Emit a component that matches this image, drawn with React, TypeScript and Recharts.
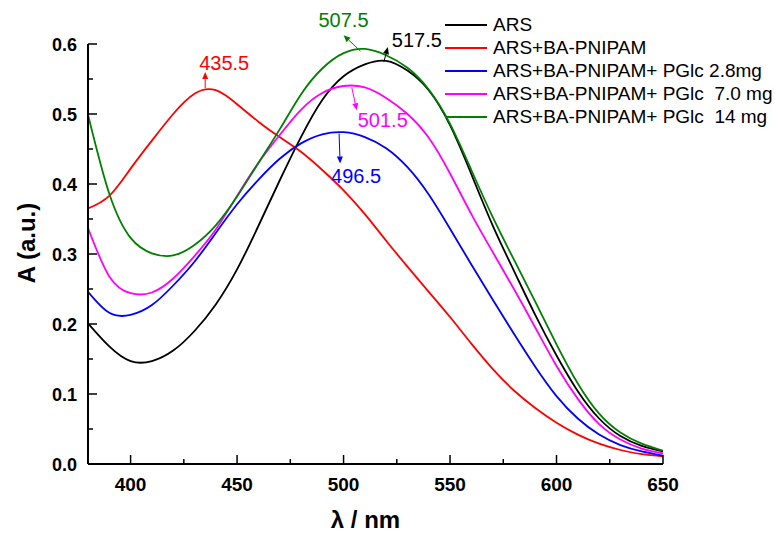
import { LineChart, Line, XAxis, YAxis, ReferenceDot } from "recharts";

// wavelength grid (nm)
const wavelengths = [
  380, 390, 400, 410, 420, 430, 440, 450, 460, 470, 480, 490, 500, 510, 520, 530, 540, 550,
  560, 570, 580, 590, 600, 610, 620, 630, 640, 650,
];

// absorbance
const ars = [
  0.201, 0.168, 0.147, 0.147, 0.162, 0.19, 0.228, 0.278, 0.34, 0.405, 0.467, 0.52, 0.554,
  0.571, 0.576, 0.562, 0.534, 0.484, 0.414, 0.341, 0.276, 0.213, 0.155, 0.104, 0.065, 0.04,
  0.026, 0.018,
];
const arsBa = [
  0.365, 0.383, 0.422, 0.462, 0.5, 0.529, 0.534, 0.514, 0.489, 0.467, 0.446, 0.42, 0.391,
  0.357, 0.319, 0.282, 0.246, 0.21, 0.172, 0.136, 0.105, 0.08, 0.059, 0.042, 0.029, 0.02,
  0.014, 0.011,
];
const pglc28 = [
  0.246, 0.216, 0.213, 0.227, 0.255, 0.289, 0.33, 0.371, 0.406, 0.436, 0.458, 0.471, 0.474,
  0.467, 0.451, 0.424, 0.385, 0.336, 0.285, 0.235, 0.186, 0.139, 0.097, 0.065, 0.042, 0.027,
  0.018, 0.012,
];
const pglc70 = [
  0.337, 0.268, 0.244, 0.245, 0.265, 0.297, 0.335, 0.383, 0.43, 0.47, 0.506, 0.53, 0.54,
  0.538, 0.523, 0.5, 0.466, 0.415, 0.357, 0.303, 0.25, 0.195, 0.14, 0.093, 0.057, 0.035,
  0.022, 0.015,
];
const pglc14 = [
  0.499, 0.386, 0.323, 0.301, 0.298, 0.313, 0.341, 0.382, 0.43, 0.478, 0.528, 0.565, 0.587,
  0.593, 0.584, 0.566, 0.535, 0.486, 0.42, 0.353, 0.292, 0.232, 0.171, 0.115, 0.072, 0.045,
  0.029, 0.019,
];

const seriesNames = [
  "ARS",
  "ARS+BA-PNIPAM",
  "ARS+BA-PNIPAM+ PGlc 2.8mg",
  "ARS+BA-PNIPAM+ PGlc  7.0 mg",
  "ARS+BA-PNIPAM+ PGlc  14 mg",
];
const seriesKeys = ["ars", "arsBa", "pglc28", "pglc70", "pglc14"];
const seriesColors = ["#000000", "#ff0000", "#0000ff", "#ff00ff", "#008000"];

// peak annotations
const peakWl = [435.5, 507.5, 517.5, 501.5, 496.5];
const peakA = [0.537, 0.594, 0.577, 0.541, 0.475];
const peakLabels = ["435.5", "507.5", "517.5", "501.5", "496.5"];
const peakColors = ["#ff0000", "#008000", "#000000", "#ff00ff", "#0000ff"];

const xTicks = [400, 425, 450, 475, 500, 525, 550, 575, 600, 625, 650];
const yTicks = [0, 0.05, 0.1, 0.15, 0.2, 0.25, 0.3, 0.35, 0.4, 0.45, 0.5, 0.55, 0.6];

const data = wavelengths.map((wl, i) => ({
  wl,
  ars: ars[i],
  arsBa: arsBa[i],
  pglc28: pglc28[i],
  pglc70: pglc70[i],
  pglc14: pglc14[i],
}));

const FONT = "'Liberation Sans', Arial, sans-serif";

// arrow start/end and text placement, relative to the peak point
const peakLayout = [
  { a: [-1, 0, -1, -16], t: [18, -18], anchor: "middle" },
  { a: [1, 3, -16, -13], t: [-16, -21], anchor: "middle" },
  { a: [3, 2, 7, -13], t: [11, -13], anchor: "start" },
  { a: [5, 2, 10, 25], t: [11, 42], anchor: "start" },
  { a: [3, 2, 4, 32], t: [-5, 51], anchor: "start" },
];

function Arrow({ x1, y1, x2, y2, color }: any) {
  const ang = Math.atan2(y2 - y1, x2 - x1);
  const L = 7;
  const W = 3;
  const bx = x2 - L * Math.cos(ang);
  const by = y2 - L * Math.sin(ang);
  const px = -Math.sin(ang) * W;
  const py = Math.cos(ang) * W;
  return (
    <g>
      <line x1={x1} y1={y1} x2={bx} y2={by} stroke={color} strokeWidth={1} />
      <polygon
        points={`${x2},${y2} ${bx + px},${by + py} ${bx - px},${by - py}`}
        fill={color}
      />
    </g>
  );
}

function PeakMark({ cx, cy, idx }: any) {
  const lay = peakLayout[idx];
  const color = peakColors[idx];
  return (
    <g>
      <Arrow
        x1={cx + lay.a[0]}
        y1={cy + lay.a[1]}
        x2={cx + lay.a[2]}
        y2={cy + lay.a[3]}
        color={color}
      />
      <text
        x={cx + lay.t[0]}
        y={cy + lay.t[1]}
        textAnchor={lay.anchor}
        fill={color}
        fontSize={20}
        fontFamily={FONT}
      >
        {peakLabels[idx]}
      </text>
    </g>
  );
}

function XTick({ x, y, payload }: any) {
  const v = payload.value;
  const major = v % 50 === 0;
  return (
    <g>
      <line x1={x} x2={x} y1={y} y2={y - (major ? 9 : 5)} stroke="#000" strokeWidth={1.5} />
      {major && (
        <text
          x={x}
          y={y + 27}
          textAnchor="middle"
          fontSize={19}
          fontWeight="bold"
          fontFamily={FONT}
          fill="#000"
        >
          {v}
        </text>
      )}
    </g>
  );
}

function YTick({ x, y, payload }: any) {
  const v = payload.value;
  const major = Math.round(v * 100) % 10 === 0;
  return (
    <g>
      <line x1={x} x2={x + (major ? 9 : 5)} y1={y} y2={y} stroke="#000" strokeWidth={1.5} />
      {major && (
        <text
          x={x - 11}
          y={y + 6.5}
          textAnchor="end"
          fontSize={18}
          fontWeight="bold"
          fontFamily={FONT}
          fill="#000"
        >
          {v.toFixed(1)}
        </text>
      )}
    </g>
  );
}

function YTitle({ viewBox }: any) {
  const cx = viewBox.x + 26;
  const cy = viewBox.y + viewBox.height / 2 - 11;
  return (
    <text
      x={cx}
      y={cy}
      transform={`rotate(-90 ${cx} ${cy})`}
      textAnchor="middle"
      dominantBaseline="central"
      fontSize={24}
      fontWeight="bold"
      fontFamily={FONT}
      fill="#000"
    >
      A (a.u.)
    </text>
  );
}

function XTitle({ viewBox }: any) {
  return (
    <text
      x={viewBox.x + viewBox.width / 2 - 10}
      y={viewBox.y + 64}
      textAnchor="middle"
      fontSize={24}
      fontWeight="bold"
      fontFamily={FONT}
      fill="#000"
    >
      λ / nm
    </text>
  );
}

function LegendBox() {
  return (
    <div
      style={{
        position: "absolute",
        left: 445,
        top: 13,
        fontFamily: FONT,
        fontSize: 19,
        color: "#000",
      }}
    >
      {seriesNames.map((name, i) => (
        <div
          key={name}
          style={{ display: "flex", alignItems: "center", height: 23.2, whiteSpace: "pre" }}
        >
          <span
            style={{
              display: "inline-block",
              width: 42,
              height: 2,
              background: seriesColors[i],
              marginRight: 6,
            }}
          />
          <span>{name}</span>
        </div>
      ))}
    </div>
  );
}

export default function App() {
  return (
    <div style={{ position: "absolute", left: 0, top: 0, width: 775, height: 533, background: "#fff" }}>
      <LineChart
        width={775}
        height={533}
        data={data}
        margin={{ top: 44, right: 112, bottom: 9, left: 0 }}
      >
        <XAxis
          dataKey="wl"
          type="number"
          domain={[380, 650]}
          ticks={xTicks}
          interval={0}
          height={60}
          tickSize={0}
          tickMargin={0}
          tickLine={false}
          tick={<XTick />}
          axisLine={{ stroke: "#000", strokeWidth: 2 }}
          allowDataOverflow
          label={<XTitle />}
        />
        <YAxis
          type="number"
          domain={[0, 0.6]}
          ticks={yTicks}
          interval={0}
          width={88}
          tickSize={0}
          tickMargin={0}
          tickLine={false}
          tick={<YTick />}
          axisLine={{ stroke: "#000", strokeWidth: 2 }}
          allowDataOverflow
          label={<YTitle />}
        />
        {seriesKeys.map((key, i) => (
          <Line
            key={key}
            type="natural"
            dataKey={key}
            name={seriesNames[i]}
            stroke={seriesColors[i]}
            strokeWidth={1.8}
            dot={false}
            activeDot={false}
            isAnimationActive={false}
          />
        ))}
        {peakWl.map((wl, i) => (
          <ReferenceDot
            key={peakLabels[i]}
            x={wl}
            y={peakA[i]}
            r={0}
            ifOverflow="visible"
            shape={(p: any) => <PeakMark cx={p.cx} cy={p.cy} idx={i} />}
          />
        ))}
      </LineChart>
      <LegendBox />
    </div>
  );
}
